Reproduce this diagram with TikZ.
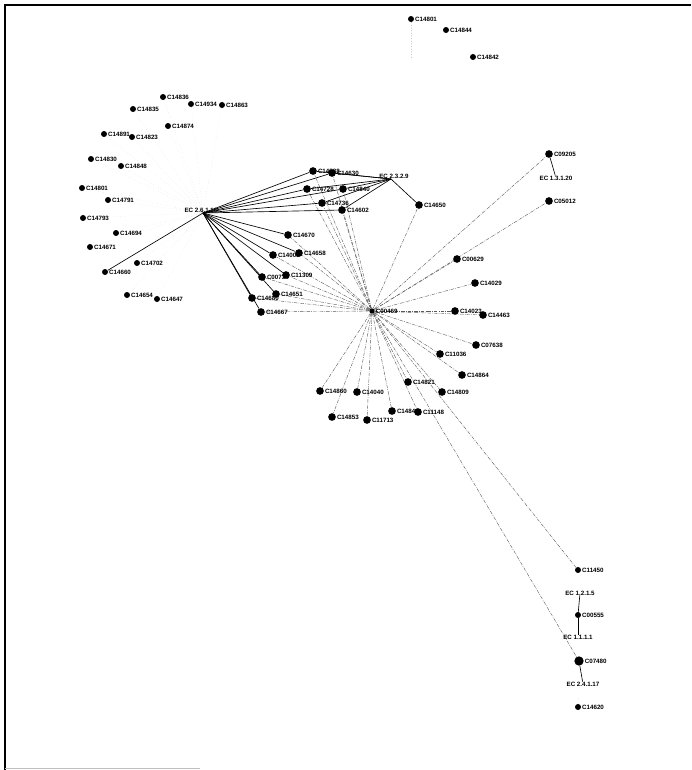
\documentclass[tikz,border=0pt]{standalone}
\usepackage{fontspec}
\newfontfamily\lblfont{Liberation Sans}
\usetikzlibrary{backgrounds}
\tikzset{
  dot/.style={circle,fill=black,inner sep=0pt,minimum size=1.8mm},
  middot/.style={dot,minimum size=2.3mm},
  bigdot/.style={dot,minimum size=2.8mm},
  lbl/.style={font=\lblfont\bfseries\fontsize{5.3}{6}\selectfont,inner sep=0.6pt,text=black},
  hub/.style={lbl,inner sep=0pt},
  solidedge/.style={black,line width=0.55pt},
  hubedge/.style={black!65,line width=0.35pt,dash pattern=on 3pt off 1pt on 0.6pt off 1pt},
  faintedge/.style={black!22,line width=0.25pt,dotted},
  frame/.style={black,line width=0.9pt}
}
\begin{document}
\begin{tikzpicture}[x=0.3mm,y=-0.3mm]
\useasboundingbox (0,0) rectangle (691,770);
% page frame
\draw[frame] (691,5) -- (5,5) -- (5,770);
\draw[black!25,line width=0.5pt] (5,768) -- (200,768);

% hubs
\node[hub] (h1) at (201,210) {EC 2.6.1.16};
\coordinate (h1c) at (203,213);
\node[hub] (h2) at (394,176) {EC 2.3.2.9};
\coordinate (h2c) at (391,179);
\node[dot,minimum size=1.6mm,label={[lbl]right:C00469}] (h3) at (372,311) {};

% left cluster
\foreach \n/\x/\y in {C14836/163/97, C14934/191/104, C14863/222/105, C14835/133/109,
  C14874/168/126, C14891/104/134, C14823/132/137, C14830/91/159, C14848/121/166,
  C14801/82/188, C14791/108/200, C14793/83/218, C14694/116/233, C14671/90/247,
  C14702/137/263, C14660/105/272, C14654/127/295, C14647/157/299}
  \node[dot,label={[lbl]right:\n}] (L\n) at (\x,\y) {};

% top right
\foreach \n/\x/\y in {C14801/411/19, C14844/446/30, C14842/473/57}
  \node[dot,label={[lbl]right:\n}] (T\n) at (\x,\y) {};

% group under EC 2.3.2.9
\foreach \n/\x/\y in {C14588/313/171, C14630/332/173, C14728/307/189, C14840/343/189,
  C14736/322/203, C14602/342/210, C14650/419/205}
  \node[middot,label={[lbl]right:\n}] (G\n) at (\x,\y) {};

% group left of the centre
\foreach \n/\x/\y in {C14670/288/235, C14658/299/253, C14002/273/255, C00734/262/277,
  C11309/286/275, C14651/276/294, C14680/252/298, C14667/261/312}
  \node[middot,label={[lbl]right:\n}] (M\n) at (\x,\y) {};

% right and lower group
\foreach \n/\x/\y in {C09205/549/154, C05012/549/201, C00629/457/259, C14029/475/283,
  C14023/455/311, C14463/483/315, C07638/476/345, C11036/440/354, C14864/462/375,
  C14821/408/382, C14809/442/392, C14860/320/391, C14040/357/392, C14853/332/417,
  C11713/367/420, C14848/392/411, C11148/418/412}
  \node[middot,label={[lbl]right:\n}] (R\n) at (\x,\y) {};

% bottom right chain
\node[dot,label={[lbl]right:C11450}] (C11450) at (578,570) {};
\node[hub] (ec1215) at (580,593) {EC 1.2.1.5};
\node[dot,label={[lbl]right:C00555}] (C00555) at (578,615) {};
\node[hub] (ec1111) at (578,637) {EC 1.1.1.1};
\node[bigdot,label={[lbl]right:C07480}] (C07480) at (579,661) {};
\node[hub] (ec24117) at (583,684) {EC 2.4.1.17};
\node[dot,label={[lbl]right:C14620}] (C14620) at (578,707) {};
\node[hub] (ec13120) at (556,178) {EC 1.3.1.20};

\begin{pgfonlayer}{background}
  % faint links of the outer cluster
  \foreach \n in {C14836,C14934,C14863,C14835,C14874,C14891,C14823,C14830,C14848,
    C14801,C14791,C14793,C14694,C14671,C14702,C14654,C14647}
    \draw[faintedge] (L\n) -- (h1c);
  \draw[faintedge] (TC14801) -- ++(0,40);
  \draw[faintedge] (C14620) -- ++(1,-14);
  % EC 2.6.1.16
  \draw[solidedge] (h1c) -- (LC14660);
  \foreach \n in {C14588,C14630,C14728,C14840,C14736,C14602}
    \draw[solidedge] (h1c) -- (G\n);
  \foreach \n in {C14670,C14658,C14002,C00734,C11309,C14651,C14680,C14667}
    \draw[solidedge] (h1c) -- (M\n);
  % EC 2.3.2.9
  \foreach \n in {C14588,C14630,C14728,C14840,C14736,C14602,C14650}
    \draw[solidedge] (h2c) -- (G\n);
  % central hub
  \foreach \n in {C14588,C14630,C14728,C14840,C14736,C14602,C14650}
    \draw[hubedge] (h3) -- (G\n);
  \foreach \n in {C14670,C14658,C14002,C00734,C11309,C14651,C14680,C14667}
    \draw[hubedge] (h3) -- (M\n);
  \foreach \n in {C09205,C05012,C00629,C14029,C14023,C14463,C07638,C11036,C14864,
    C14821,C14809,C14860,C14040,C14853,C11713,C14848,C11148}
    \draw[hubedge] (h3) -- (R\n);
  \draw[hubedge] (h3) -- (C11450);
  \draw[hubedge] (h3) -- (C07480);
  % short reaction links
  \draw[solidedge] (RC09205) -- (ec13120);
  \draw[solidedge] (ec1215) -- (C00555);
  \draw[solidedge] (C00555) -- (ec1111);
  \draw[solidedge] (C07480) -- (ec24117);
\end{pgfonlayer}
\end{tikzpicture}
\end{document}
